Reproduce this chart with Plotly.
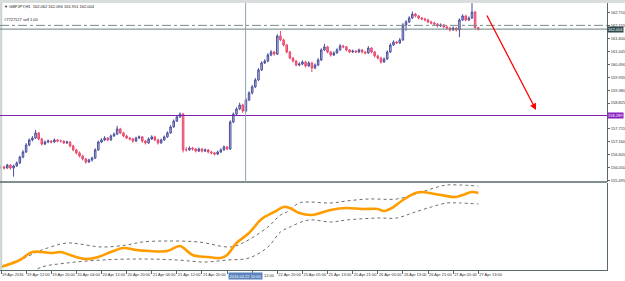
import plotly.graph_objects as go

# ---------------- DATA ----------------
opens = [156.05,156.08,156.03,156.16,156.03,156.12,156.25,156.50,156.72,157.02,
         157.24,157.32,157.54,157.28,157.06,157.15,157.19,157.15,157.24,157.19,
         157.19,157.11,157.15,156.98,156.81,156.68,156.55,156.42,156.29,156.38,
         156.46,156.81,157.15,157.24,157.32,157.24,157.41,157.49,157.71,157.54,
         157.41,157.32,157.28,157.19,157.32,157.37,157.19,157.11,157.28,157.37,
         157.24,157.11,157.24,157.37,157.54,157.80,158.05,158.23,158.35,156.81,
         156.81,156.89,156.85,156.76,156.85,156.76,156.81,156.72,156.68,156.63,
         156.72,156.81,156.94,156.85,158.01,158.35,158.57,158.74,158.48,158.96,
         159.26,159.52,159.82,160.25,160.55,160.63,160.89,161.02,160.93,161.71,
         161.54,161.32,161.02,160.76,160.63,160.46,160.50,160.59,160.42,160.55,
         160.33,160.46,160.68,161.11,161.24,161.02,160.89,160.98,161.11,161.28,
         161.24,161.11,161.02,161.06,161.02,161.11,161.02,160.98,161.19,161.02,
         160.85,160.76,160.59,160.72,161.02,161.32,161.45,161.41,161.54,162.18,
         162.31,162.48,162.65,162.57,162.48,162.44,162.40,162.31,162.27,162.22,
         162.14,162.18,162.10,162.05,161.97,162.05,161.97,162.40,162.57,162.40,
         162.48,162.74,162.062]
highs = [156.14,156.12,156.21,156.19,156.18,156.31,156.56,156.80,157.10,157.30,
         157.40,157.67,157.58,157.33,157.21,157.26,157.23,157.30,157.28,157.25,
         157.22,157.20,157.18,157.03,156.86,156.74,156.60,156.47,156.43,156.52,
         156.88,157.21,157.31,157.40,157.36,157.47,157.56,157.85,157.76,157.59,
         157.46,157.37,157.33,157.38,157.43,157.41,157.24,157.35,157.44,157.42,
         157.29,157.30,157.43,157.61,157.87,158.12,158.30,158.42,158.40,156.93,
         156.96,156.94,156.90,156.91,156.89,156.87,156.85,156.77,156.73,156.78,
         156.88,157.00,156.98,158.08,158.42,158.64,158.84,158.80,159.04,159.33,
         159.60,159.90,160.33,160.62,160.71,160.97,161.10,161.07,161.78,161.93,
         161.59,161.37,161.07,160.81,160.68,160.58,160.66,160.64,160.62,160.60,
         160.53,160.75,161.18,161.37,161.29,161.07,161.05,161.18,161.36,161.33,
         161.28,161.15,161.12,161.10,161.17,161.15,161.06,161.27,161.23,161.07,
         160.90,160.81,160.79,161.09,161.40,161.52,161.50,161.62,162.26,162.39,
         162.56,162.76,162.70,162.61,162.53,162.49,162.45,162.36,162.32,162.27,
         162.25,162.23,162.15,162.10,162.12,162.09,162.47,162.64,162.62,162.55,
         163.12,162.79,162.094]
lows = [155.98,155.97,156.00,155.96,155.66,156.08,156.20,156.45,156.68,156.97,
        157.18,157.28,157.22,157.00,157.02,157.10,157.09,157.12,157.14,157.13,
        157.06,157.07,156.92,156.75,156.62,156.49,156.36,156.22,156.25,156.31,
        156.42,156.77,157.10,157.19,157.18,157.20,157.37,157.45,157.49,157.36,
        157.27,157.22,157.12,157.15,157.28,157.12,157.04,157.07,157.24,157.18,
        157.04,157.07,157.20,157.33,157.50,157.76,158.01,158.18,156.70,156.74,
        156.77,156.78,156.70,156.72,156.70,156.72,156.66,156.62,156.57,156.59,
        156.68,156.77,156.80,156.81,157.96,158.30,158.52,158.40,158.43,158.91,
        159.20,159.47,159.77,160.20,160.50,160.58,160.84,160.86,160.89,161.49,
        161.26,160.96,160.70,160.57,160.40,160.41,160.45,160.35,160.38,160.16,
        160.28,160.41,160.63,161.06,160.96,160.82,160.85,160.94,161.07,161.18,
        161.05,160.97,160.98,160.97,160.98,160.96,160.92,160.94,160.96,160.79,
        160.70,160.52,160.55,160.68,160.98,161.28,161.36,161.37,161.50,161.93,
        162.27,162.44,162.51,162.42,162.39,162.34,162.26,162.21,162.17,162.08,
        162.10,162.04,161.99,161.90,161.93,161.90,161.66,162.35,162.34,162.36,
        162.44,162.02,161.951]
closes = [156.08,156.03,156.16,156.03,156.12,156.25,156.50,156.72,157.02,157.24,
          157.32,157.54,157.28,157.06,157.15,157.19,157.15,157.24,157.19,157.19,
          157.11,157.15,156.98,156.81,156.68,156.55,156.42,156.29,156.38,156.46,
          156.81,157.15,157.24,157.32,157.24,157.41,157.49,157.71,157.54,157.41,
          157.32,157.28,157.19,157.32,157.37,157.19,157.11,157.28,157.37,157.24,
          157.11,157.24,157.37,157.54,157.80,158.05,158.23,158.35,156.81,156.81,
          156.89,156.85,156.76,156.85,156.76,156.81,156.72,156.68,156.63,156.72,
          156.81,156.94,156.85,158.01,158.35,158.57,158.74,158.48,158.96,159.26,
          159.52,159.82,160.25,160.55,160.63,160.89,161.02,160.93,161.71,161.54,
          161.32,161.02,160.76,160.63,160.46,160.50,160.59,160.42,160.55,160.33,
          160.46,160.68,161.11,161.24,161.02,160.89,160.98,161.11,161.28,161.24,
          161.11,161.02,161.06,161.02,161.11,161.02,160.98,161.19,161.02,160.85,
          160.76,160.59,160.72,161.02,161.32,161.45,161.41,161.54,162.18,162.31,
          162.48,162.65,162.57,162.48,162.44,162.40,162.31,162.27,162.22,162.14,
          162.18,162.10,162.05,161.97,162.05,161.97,162.40,162.57,162.40,162.48,
          162.74,162.062,162.004]
bar_index = list(range(len(closes)))

# indicator (orange line and dotted bands), read at selected bars
ind_idx = [0,6,10,16,19,22,27,31,35,39,43,47,53,57,61,66,70,72,75,79,83,87,90,92,
           95,99,105,110,115,120,122,125,128,132,134,140,145,147,150,152]
ind_val = [3,10,18,17,18,15,11,13,18,22,20,19,19,24,15,13,12,15,27,37,51,58,63,62,
           57,55,60,62,61,61,59,63,70,77,78,75,73,75,78,77]
up_idx = [0,6,13,21,25,32,40,45,53,63,73,77,85,89,91,95,98,105,110,117,126,131,134,
          139,142,146,152]
up_val = [4,10,20,27,26,23,25,28,29,28,23,27,43,55,58,67,68,67,69,71,71,75,78,83,85,
          85,84]
lo_idx = [10,13,21,32,45,56,65,72,79,85,89,92,98,105,110,120,126,131,137,142,146,152]
lo_val = [-2,3,7,10,11,10,8,10,12,23,38,43,50,48,50,52,52,57,63,67,67,66]

# price scale labels (158.270 is hidden under the purple line label)
price_ticks = [155.495,156.050,156.605,157.160,157.715,158.825,159.380,
               159.935,160.490,161.045,161.600,162.155,162.710]
price_labels = ["155.495","156.050","156.605","157.160","157.715","158.825",
                "159.380","159.935","160.490","161.045","161.600","162.155","162.710"]
# time scale; the 22 Apr 04:00 / 12:00 labels are mostly hidden by the vertical-line date box
time_tick_idx = [0,8,16,24,32,40,48,56,64,72,80,88,96,104,112,120,128,136,144,152]
time_labels = ["19 Apr 2016","19 Apr 12:00","19 Apr 20:00","20 Apr 04:00","20 Apr 12:00",
               "20 Apr 20:00","21 Apr 04:00","21 Apr 12:00","21 Apr 20:00","","",
               "22 Apr 20:00","25 Apr 05:00","25 Apr 13:00","25 Apr 21:00","26 Apr 05:00",
               "26 Apr 13:00","26 Apr 21:00","27 Apr 05:00","27 Apr 13:00"]
partial_label = "12:00"
partial_label_bar = 83.0

title_text = "GBPJPY,H1  162.062 162.094 161.951 162.004"
order_text = "#7727127 sell 1.00"
order_price = 162.165
bid_price = 162.004
hline_price = 158.289
vline_bar = 77.9
vline_label = "2016.04.22 10:00"
arrow_start = (154.5, 162.654)
arrow_end = (170.4, 158.526)

# ---------------- FIGURE ----------------
FONT = "Liberation Sans"
AX = "#56696b"
fig = go.Figure()
fig.add_trace(go.Candlestick(
    x=bar_index, open=opens, high=highs, low=lows, close=closes,
    increasing=dict(line=dict(color="#4b4f9c", width=1), fillcolor="#c3c8ea"),
    decreasing=dict(line=dict(color="#e84a6e", width=1), fillcolor="#f2839b"),
    whiskerwidth=0, xaxis="x", yaxis="y", showlegend=False, hoverinfo="skip"))
fig.add_trace(go.Scatter(x=up_idx, y=up_val, mode="lines", xaxis="x", yaxis="y2",
                         line=dict(color="#6d6d6d", width=1, dash="dot", shape="spline"),
                         showlegend=False, hoverinfo="skip"))
fig.add_trace(go.Scatter(x=lo_idx, y=lo_val, mode="lines", xaxis="x", yaxis="y2",
                         line=dict(color="#6d6d6d", width=1, dash="dot", shape="spline"),
                         showlegend=False, hoverinfo="skip"))
fig.add_trace(go.Scatter(x=ind_idx, y=ind_val, mode="lines", xaxis="x", yaxis="y2",
                         line=dict(color="#ff9d00", width=2.6, shape="spline"),
                         showlegend=False, hoverinfo="skip"))

H = 270.0
main_dom = [(H - 182) / H, (H - 3) / H]
ind_dom = [0, (H - 183) / H]

fig.update_layout(
    width=625, height=281,
    margin=dict(l=0, r=18, t=0, b=11, autoexpand=False),
    paper_bgcolor="white", plot_bgcolor="white",
    font=dict(family=FONT, size=4, color="#303030"),
    xaxis=dict(domain=[0, 1], anchor="y2", range=[-0.32, 193], showgrid=False,
               zeroline=False, showline=True, linecolor=AX, linewidth=1,
               tickvals=time_tick_idx, ticktext=time_labels, ticks="outside",
               ticklen=3, tickcolor=AX, ticklabelposition="outside right",
               tickangle=0, automargin=False,
               tickfont=dict(size=4, family=FONT, color="#303030"),
               rangeslider=dict(visible=False), fixedrange=True),
    yaxis=dict(domain=main_dom, anchor="x", side="right", range=[155.43, 163.127],
               showgrid=False, zeroline=False, showline=True, linecolor=AX,
               tickvals=price_ticks, ticktext=price_labels, ticks="outside",
               ticklen=2, tickcolor=AX, automargin=False,
               tickfont=dict(size=4, family=FONT, color="#303030")),
    yaxis2=dict(domain=ind_dom, anchor="x", side="right", range=[0, 87],
                showgrid=False, zeroline=False, showline=True, linecolor=AX,
                showticklabels=False, ticks="", automargin=False),
)

shapes = [
    dict(type="rect", xref="paper", yref="paper", x0=-0.01, x1=1.05, y0=main_dom[1],
         y1=1.02, fillcolor="#d9dddd", line=dict(width=0), layer="above"),
    dict(type="line", xref="paper", yref="paper", x0=0.002, x1=0.002, y0=0, y1=main_dom[1],
         line=dict(color="#c9d0d0", width=2)),
    dict(type="line", xref="paper", yref="paper", x0=0, x1=1, y0=main_dom[0], y1=main_dom[0],
         line=dict(color=AX, width=1.5)),
    dict(type="line", xref="paper", yref="y", x0=0, x1=1, y0=order_price, y1=order_price,
         line=dict(color="#7a8a8a", width=1, dash="dashdot")),
    dict(type="line", xref="paper", yref="y", x0=0, x1=1, y0=bid_price, y1=bid_price,
         line=dict(color="#6b8282", width=1)),
    dict(type="line", xref="paper", yref="y", x0=0, x1=1, y0=hline_price, y1=hline_price,
         line=dict(color="#7b1fb3", width=1.2)),
    dict(type="line", xref="x", yref="paper", x0=vline_bar, x1=vline_bar, y0=main_dom[0],
         y1=main_dom[1], line=dict(color="#8ea6b6", width=1)),
]
fig.update_layout(shapes=shapes)

ann = [
    dict(text="▼ " + title_text, xref="paper", yref="paper", x=0.004, y=(H - 6) / H,
         xanchor="left", yanchor="middle", showarrow=False,
         font=dict(size=4, family=FONT, color="#202020")),
    dict(text=order_text, xref="paper", yref="y", x=0.004, y=order_price,
         xanchor="left", yanchor="bottom", showarrow=False, yshift=1,
         font=dict(size=4, family=FONT, color="#202020")),
    dict(text=f"{bid_price:.3f}", xref="paper", yref="y", x=1.0, y=bid_price,
         xanchor="left", yanchor="middle", showarrow=False, bgcolor="#2e4a4e",
         borderpad=0, font=dict(size=4, family=FONT, color="white")),
    dict(text=f"{hline_price:.3f}", xref="paper", yref="y", x=1.0, y=hline_price,
         xanchor="left", yanchor="middle", showarrow=False, bgcolor="#8a1fc0",
         borderpad=0, font=dict(size=4, family=FONT, color="white")),
    dict(text=vline_label, xref="x", yref="paper", x=vline_bar, y=-5.5 / H,
         xanchor="center", yanchor="middle", showarrow=False, bgcolor="#5b83bd",
         borderpad=0.5, font=dict(size=4, family=FONT, color="white")),
    dict(text=partial_label, xref="x", yref="paper", x=partial_label_bar, y=-5.5 / H,
         xanchor="left", yanchor="middle", showarrow=False,
         font=dict(size=4, family=FONT, color="#303030")),
    dict(text="", xref="x", yref="y", x=arrow_end[0], y=arrow_end[1],
         axref="x", ayref="y", ax=arrow_start[0], ay=arrow_start[1],
         showarrow=True, arrowhead=2, arrowsize=1, arrowwidth=1.3, arrowcolor="#ff0000"),
]
fig.update_layout(annotations=ann)

fig.write_html("out.html")
